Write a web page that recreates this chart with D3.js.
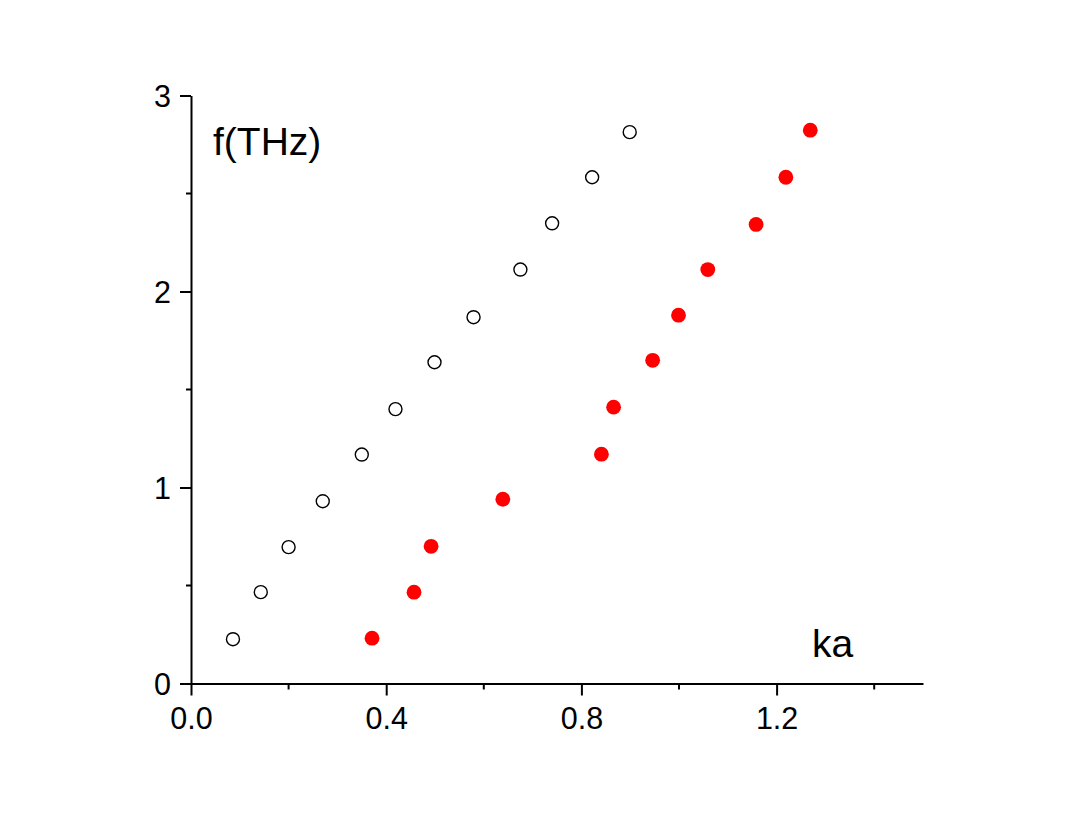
<!DOCTYPE html>
<html>
<head>
<meta charset="utf-8">
<script src="https://cdn.jsdelivr.net/npm/d3@7/dist/d3.min.js"></script>
<style>
  html, body { margin: 0; padding: 0; background: #fff; }
  svg { display: block; }
  text { font-family: "Liberation Sans", Arial, Helvetica, sans-serif; fill: #000; }
</style>
</head>
<body>
<svg id="chart" width="1072" height="821"></svg>
<script>
// Series 1 (open black circles)
const openKa = [0.086, 0.143, 0.200, 0.270, 0.350, 0.419, 0.499, 0.579, 0.675, 0.740, 0.822, 0.899];
const openF  = [0.226, 0.466, 0.696, 0.930, 1.168, 1.400, 1.639, 1.869, 2.112, 2.348, 2.583, 2.813];
// Series 2 (filled red circles)
const redKa = [0.371, 0.457, 0.492, 0.639, 0.841, 0.866, 0.946, 0.999, 1.059, 1.158, 1.219, 1.269];
const redF  = [0.231, 0.466, 0.700, 0.940, 1.170, 1.410, 1.649, 1.879, 2.112, 2.342, 2.583, 2.823];
// Ticks
const xMajor = [0, 0.4, 0.8, 1.2];
const xMinor = [0.2, 0.6, 1.0, 1.4];
const yMajor = [0, 1, 2, 3];
const yMinor = [0.5, 1.5, 2.5];
const xTickLabels = ["0.0", "0.4", "0.8", "1.2"];
const yTickLabels = ["0", "1", "2", "3"];

const svg = d3.select("#chart");
const x = d3.scaleLinear().domain([0, 1.5]).range([191, 923]);
const y = d3.scaleLinear().domain([0, 3]).range([683.5, 95.5]);

const fontSize = 30.5;

// X axis
const xAxis = d3.axisBottom(x).tickValues(xMajor).tickSize(12).tickSizeOuter(0)
  .tickFormat((d, i) => xTickLabels[i]);
const gx = svg.append("g").attr("transform", `translate(0,${y(0)})`).call(xAxis);
gx.select(".domain").attr("stroke", "#000").attr("stroke-width", 2);
gx.selectAll(".tick line").attr("stroke", "#000").attr("stroke-width", 2);
gx.selectAll(".tick text").attr("font-size", fontSize).attr("dy", null).attr("y", 45.5)
  .attr("font-family", "Liberation Sans, Arial, sans-serif");
gx.selectAll(".minor").data(xMinor).enter().append("line")
  .attr("x1", d => x(d)).attr("x2", d => x(d)).attr("y1", 0).attr("y2", 6)
  .attr("stroke", "#000").attr("stroke-width", 2);

// Y axis
const yAxis = d3.axisLeft(y).tickValues(yMajor).tickSize(11).tickSizeOuter(0)
  .tickFormat((d, i) => yTickLabels[i]);
const gy = svg.append("g").attr("transform", `translate(${x(0)},0)`).call(yAxis);
gy.select(".domain").attr("stroke", "#000").attr("stroke-width", 2);
gy.selectAll(".tick line").attr("stroke", "#000").attr("stroke-width", 2);
gy.selectAll(".tick text").attr("font-size", fontSize).attr("x", -20).attr("dy", "0.36em")
  .attr("font-family", "Liberation Sans, Arial, sans-serif");
gy.selectAll(".minor").data(yMinor).enter().append("line")
  .attr("y1", d => y(d)).attr("y2", d => y(d)).attr("x1", 0).attr("x2", -5)
  .attr("stroke", "#000").attr("stroke-width", 2);

// Axis titles
svg.append("text").attr("x", 213).attr("y", 155).attr("font-size", 39).text("f(THz)");
svg.append("text").attr("x", 812).attr("y", 657).attr("font-size", 39).text("ka");

// Open circles
svg.append("g").selectAll("circle").data(openKa.map((k, i) => [k, openF[i]])).enter()
  .append("circle")
  .attr("cx", d => x(d[0])).attr("cy", d => y(d[1])).attr("r", 6.5)
  .attr("fill", "#fff").attr("stroke", "#000").attr("stroke-width", 1.4);

// Red filled circles
svg.append("g").selectAll("circle").data(redKa.map((k, i) => [k, redF[i]])).enter()
  .append("circle")
  .attr("cx", d => x(d[0])).attr("cy", d => y(d[1])).attr("r", 7.4)
  .attr("fill", "#ff0000");
</script>
</body>
</html>
